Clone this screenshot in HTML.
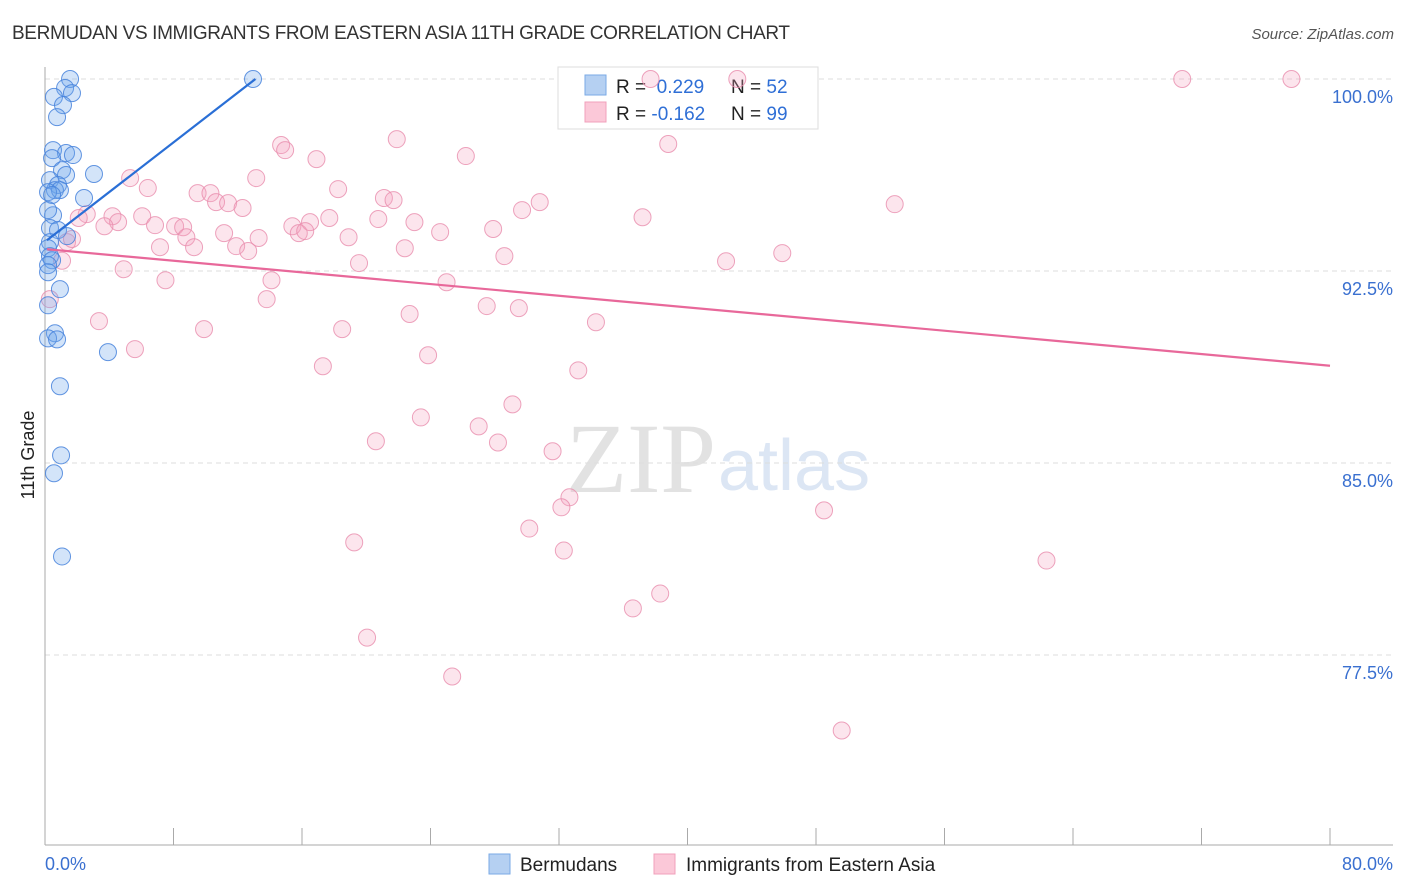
<!DOCTYPE html>
<html><head><meta charset="utf-8"><style>
body{margin:0;background:#fff;font-family:"Liberation Sans",sans-serif;}
#wrap{position:relative;width:1406px;height:892px;overflow:hidden;}
</style></head><body>
<div id="wrap">
<svg id="chart" width="1406" height="892">
<text x="12" y="39" font-size="19" fill="#333" textLength="778">BERMUDAN VS IMMIGRANTS FROM EASTERN ASIA 11TH GRADE CORRELATION CHART</text>
<text x="1394" y="39" font-size="15" fill="#555" font-style="italic" text-anchor="end">Source: ZipAtlas.com</text>
<text x="716" y="492" font-size="100" fill="#e2e2e2" text-anchor="end" font-family="Liberation Serif">ZIP</text>
<text x="718" y="490" font-size="72" fill="#dce6f4">atlas</text>
<text x="34" y="455" font-size="18" fill="#222" text-anchor="middle" transform="rotate(-90 34 455)">11th Grade</text>
<g id="grid"></g><g id="axes"></g>
<g>
<rect x="558" y="67" width="260" height="62" fill="#fff" stroke="#ddd"/>
<rect x="585" y="75" width="21" height="20" fill="#b5d0f2" stroke="#7aaae6"/>
<rect x="585" y="102" width="21" height="20" fill="#fbc8d8" stroke="#f0a0bb"/>
<text x="616" y="93" font-size="19" fill="#222">R = <tspan fill="#2f6fd6">&#160;0.229</tspan></text>
<text x="731" y="93" font-size="19" fill="#222">N = <tspan fill="#2f6fd6">52</tspan></text>
<text x="616" y="120" font-size="19" fill="#222">R = <tspan fill="#2f6fd6">-0.162</tspan></text>
<text x="731" y="120" font-size="19" fill="#222">N = <tspan fill="#2f6fd6">99</tspan></text>
</g>
<g id="pts"></g><g id="lines"></g>
<g>
<rect x="489" y="854" width="21" height="20" fill="#b5d0f2" stroke="#7aaae6"/>
<text x="520" y="871" font-size="19" fill="#222">Bermudans</text>
<rect x="654" y="854" width="21" height="20" fill="#fbc8d8" stroke="#f0a0bb"/>
<text x="686" y="871" font-size="19" fill="#222">Immigrants from Eastern Asia</text>
</g>
</svg>
</div>
<script>
const xTicks=[0,8,16,24,32,40,48,56,64,72,80];
const yTicks=[77.5,85,92.5,100];
const yTickLabels=["77.5%","85.0%","92.5%","100.0%"];
const blueX=[1.56,1.25,1.68,0.56,1.12,0.75,0.5,1.31,1.74,0.44,1.06,1.31,3.05,0.31,0.81,0.62,0.93,0.19,0.44,2.43,0.5,0.19,0.31,0.81,1.37,0.31,0.19,0.31,0.44,0.19,0.19,0.93,0.19,0.62,0.19,0.75,3.92,0.93,1.0,0.56,1.06,12.95];
const blueY=[100,99.65,99.45,99.3,98.98,98.51,97.22,97.11,97.03,96.91,96.44,96.25,96.29,96.05,95.86,95.66,95.66,95.58,95.47,95.35,94.68,94.88,94.18,94.1,93.86,93.63,93.39,93.08,92.92,92.73,92.45,91.79,91.16,90.07,89.87,89.83,89.33,88.0,85.3,84.6,81.35,100];
const pinkX=[37.7,43.1,70.8,77.6,21.9,14.7,14.95,38.8,26.2,16.9,5.3,13.15,6.4,18.25,9.5,10.3,10.65,11.4,21.1,21.7,30.8,12.3,29.7,2.6,4.2,6.05,2.1,4.55,3.7,6.85,8.1,8.6,15.4,16.5,17.7,20.75,23.0,37.2,52.9,27.9,11.15,15.8,16.2,8.8,13.3,18.9,24.6,1.37,1.68,7.16,9.28,11.9,12.65,22.4,28.6,45.9,42.4,19.55,4.9,7.5,14.1,25.0,13.8,27.5,29.5,22.7,34.3,3.36,9.9,18.5,5.6,23.85,17.3,33.2,29.1,23.4,27.0,20.6,28.2,31.6,32.65,32.15,48.5,30.15,19.25,32.3,62.35,38.3,36.6,20.05,25.35,49.6,1.06,0.3];
const pinkY=[100,100,100,100,97.65,97.42,97.22,97.46,96.99,96.87,96.13,96.13,95.74,95.7,95.54,95.54,95.19,95.15,95.35,95.27,95.19,94.96,94.88,94.72,94.64,94.64,94.57,94.41,94.25,94.29,94.25,94.21,94.25,94.41,94.57,94.53,94.41,94.6,95.11,94.14,93.98,93.98,94.06,93.82,93.79,93.82,94.02,93.63,93.75,93.43,93.43,93.47,93.28,93.39,93.08,93.2,92.88,92.81,92.57,92.14,92.14,92.06,91.4,91.13,91.05,90.82,90.5,90.54,90.23,90.23,89.45,89.21,88.78,88.62,87.29,86.78,86.43,85.85,85.8,85.46,83.66,83.27,83.15,82.44,81.9,81.58,81.19,79.9,79.32,78.18,76.66,74.55,92.9,91.4];
const blueTrendX=[0.12,13.1];
const blueTrendY=[93.7,100];
const pinkTrendX=[0.12,80];
const pinkTrendY=[93.35,88.8];

const NS="http://www.w3.org/2000/svg";
const X=v=>45+v/80*1285;
const Y=v=>79+(100-v)*25.6;
function mk(tag,parent,attrs){const e=document.createElementNS(NS,tag);for(const k in attrs)e.setAttribute(k,attrs[k]);document.getElementById(parent).appendChild(e);return e;}
yTicks.forEach((t,i)=>{
 const g=mk('line','grid',{x1:45,x2:1393,y1:Y(t),y2:Y(t),stroke:'#ddd','stroke-dasharray':'5,4'});
 
 
 const l=mk('text','axes',{x:1393,y:Y(t)+24,'font-size':18,fill:'#3a70d0','text-anchor':'end'});
 l.textContent=yTickLabels[i];
 
 
});
mk('line','axes',{x1:45,x2:45,y1:67,y2:845,stroke:'#aaa'});
mk('line','axes',{x1:45,x2:1393,y1:845,y2:845,stroke:'#aaa'});
xTicks.forEach(t=>{
 const k=mk('line','axes',{x1:X(t),x2:X(t),y1:828,y2:845,stroke:'#aaa'});
 
 
});
const xl0=mk('text','axes',{x:45,y:870,'font-size':18,fill:'#3a70d0'});xl0.textContent=xTicks[0].toFixed(1)+'%';


const xl1=mk('text','axes',{x:1393,y:870,'font-size':18,fill:'#3a70d0','text-anchor':'end'});xl1.textContent=xTicks[xTicks.length-1].toFixed(1)+'%';


pinkX.forEach((v,i)=>{
 const c=mk('circle','pts',{cx:X(v),cy:Y(pinkY[i]),r:8.5,fill:'rgba(244,160,190,0.28)',stroke:'rgba(232,140,172,0.8)','stroke-width':1});
 
 
});
blueX.forEach((v,i)=>{
 const c=mk('circle','pts',{cx:X(v),cy:Y(blueY[i]),r:8.5,fill:'rgba(110,165,235,0.3)',stroke:'rgba(70,130,220,0.85)','stroke-width':1});
 
 
});
const bl=mk('line','lines',{x1:X(blueTrendX[0]),y1:Y(blueTrendY[0]),x2:X(blueTrendX[1]),y2:Y(blueTrendY[1]),stroke:'#2a6fd6','stroke-width':2.2});


const pl=mk('line','lines',{x1:X(pinkTrendX[0]),y1:Y(pinkTrendY[0]),x2:X(pinkTrendX[1]),y2:Y(pinkTrendY[1]),stroke:'#e8689a','stroke-width':2.2});


</script>
</body></html>
